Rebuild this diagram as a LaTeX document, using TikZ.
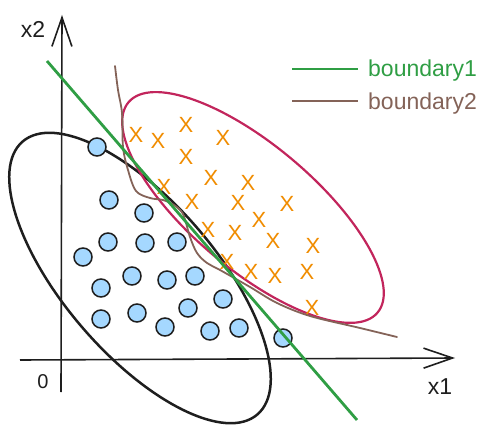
\documentclass[tikz,border=0pt]{standalone}
\usepackage{fontspec}
\setmainfont{Liberation Sans}
\usetikzlibrary{arrows.meta}
\definecolor{ink}{HTML}{1E1E1E}
\definecolor{grn}{HTML}{2F9E44}
\definecolor{brn}{HTML}{846358}
\definecolor{crim}{HTML}{C2255C}
\definecolor{org}{HTML}{F08C00}
\definecolor{lblue}{HTML}{A5D8FF}
\begin{document}
\begin{tikzpicture}[x=1pt,y=-1pt,
  axisline/.style={ink,line width=1.6pt,-{Straight Barb[length=29pt,width=20pt]}},
  dot/.style={circle,draw=ink,fill=lblue,line width=1.5pt,minimum size=18pt,inner sep=0pt},
  cross/.style={text=org,inner sep=0pt,font=\fontsize{22}{22}\selectfont},
  lbl/.style={text=ink,inner sep=0pt,font=\fontsize{23}{23}\selectfont},
  legtext/.style={inner sep=0pt,anchor=base west,font=\fontsize{23}{23}\selectfont}]
\useasboundingbox (0,0) rectangle (493,433);
% axes
\coordinate (xs) at (20,360);
\coordinate (xe) at (455,358);
\coordinate (ys) at (61,392);
\coordinate (ye) at (62,15);
\draw[axisline] (xs) -- (xe);
\draw[axisline] (ys) -- (ye);
\node[lbl] (lx2) at (33,29) {x2};
\node[lbl] (lx1) at (440,387) {x1};
\node[lbl,font=\fontsize{20}{20}\selectfont] (l0) at (43,382) {0};
% black ellipse
\coordinate (bc) at (140,278);
\draw[ink,line width=2.5pt,rotate around={-49.3:(bc)}] (bc) ellipse [x radius=180pt,y radius=76pt];
% blue dots
\foreach \p [count=\i] in {(97,147),(109,200),(144,213),(108,242),(145,243),(177,242),(83,257),(132,276),(167,280),(195,276),(223,299),(101,288),(137,313),(188,308),(101,319),(165,327),(210,331),(239,328),(283,338)}
  \node[dot] (c\i) at \p {};
% crimson ellipse
\coordinate (rc) at (253,207.5);
\draw[crim,line width=2.2pt,rotate around={-40.2:(rc)}] (rc) ellipse [x radius=163pt,y radius=62pt];
% orange crosses
\foreach \p [count=\i] in {(136,135),(158,141),(186,125),(186,157),(223,138),(211,178),(164,187),(248,183),(192,202),(238,203),(287,204),(259,220),(208,230),(235,233),(273,241),(313,246),(227,262),(251,272),(275,276),(307,272),(312,308)}
  \node[cross] (x\i) at \p {X};
% boundary 2 (brown)
\coordinate (b1) at (115,66);
\coordinate (b2) at (397,337);
\draw[brn,line width=1.8pt,line cap=round] plot[smooth,tension=0.55] coordinates {(b1) (118,90) (122,113) (123,147) (128,170) (136,191) (150,198) (163,200) (174,205) (183,214) (190,237) (197,253) (207,263) (220,270) (250,287) (277,303) (310,316) (360,328) (b2)};
% boundary 1 (green)
\coordinate (g1) at (47,61);
\coordinate (g2) at (357,420);
\draw[grn,line width=2.8pt] (g1) -- (g2);
% legend
\coordinate (la1) at (292,69);
\coordinate (la2) at (358,69);
\coordinate (lb1) at (292,101);
\coordinate (lb2) at (358,101);
\draw[grn,line width=1.8pt] (la1) -- (la2);
\draw[brn,line width=1.8pt] (lb1) -- (lb2);
\node[legtext,text=grn] (t1) at (368,77) {boundary1};
\node[legtext,text=brn] (t2) at (368,110) {boundary2};
\end{tikzpicture}
\end{document}
